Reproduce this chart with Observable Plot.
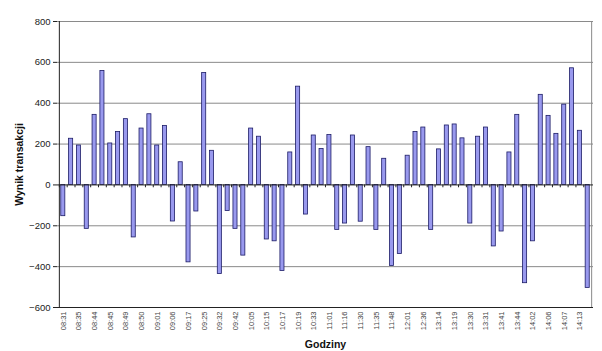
<!DOCTYPE html>
<html>
<head>
<meta charset="utf-8">
<script src="https://cdn.jsdelivr.net/npm/d3@7"></script>
<script src="https://cdn.jsdelivr.net/npm/@observablehq/plot@0.6"></script>
<style>
  html, body { margin: 0; padding: 0; background: #fff; }
  #chart { width: 602px; height: 351px; }
</style>
</head>
<body>
<div id="chart"></div>
<script>
// Tick labels (every second bar is labelled)
const tickLabels = ["08:31","08:35","08:44","08:45","08:49","08:50","09:01","09:06","09:17","09:25","09:32","09:42","10:05","10:15","10:17","10:19","10:33","11:01","11:16","11:30","11:35","11:48","12:01","12:36","13:14","13:19","13:30","13:31","13:41","13:44","14:02","14:06","14:07","14:13"];

// Transaction results, one per bar (68 bars)
const values = [
  -153, 226, 193, -215, 343, 558, 203, 259, 322, -257,
  276, 346, 193, 289, -179, 111, -379, -130, 548, 167,
  -436, -128, -215, -346, 276, 236, -267, -276, -421, 159,
  481, -145, 242, 176, 244, -220, -189, 242, -180, 185,
  -220, 128, -397, -338, 143, 259, 281, -220, 174, 291,
  296, 228, -189, 236, 281, -301, -228, 159, 343, -481,
  -276, 441, 338, 250, 393, 571, 265, -504
];

const yTicks = [-600, -400, -200, 0, 200, 400, 600, 800];

const data = values.map((v, i) => ({i, v}));
const idx = values.map((_, i) => i);
const labelOf = i => (i % 2 === 0 ? tickLabels[i / 2] : "");

const chart = Plot.plot({
  width: 602,
  height: 351,
  marginLeft: 57,
  marginRight: 9,
  marginTop: 21,
  marginBottom: 44,
  style: {fontFamily: "'Liberation Sans', Arial, sans-serif", background: "#fff", color: "#222"},
  x: {type: "band", domain: idx, padding: 0.48, axis: null},
  y: {domain: [-600, 800], axis: null},
  marks: [
    // gridlines
    Plot.ruleY(yTicks.filter(t => t !== 0 && t !== -600), {stroke: "#8a8a8a", strokeWidth: 1}),
    // right border
    Plot.ruleX([idx[idx.length - 1]], {y1: -600, y2: 800, dx: 3.94, stroke: "#8a8a8a", strokeWidth: 1}),
    // bars
    Plot.barY(data, {x: "i", y: "v", fill: "#9999ee", stroke: "#1c1c66", strokeWidth: 0.8}),
    // zero line with category ticks
    Plot.ruleY([0], {stroke: "#222", strokeWidth: 1}),
    Plot.ruleX(idx, {y1: 0, y2: -14, dx: -3.94, stroke: "#222", strokeWidth: 1}),
    // left axis line and bottom line
    Plot.ruleX([0], {y1: -600, y2: 800, dx: -3.94, stroke: "#222", strokeWidth: 1}),
    Plot.ruleY([-600], {stroke: "#222", strokeWidth: 1}),
    // y axis
    Plot.axisY({
      ticks: yTicks, tickSize: 4, tickPadding: 3, fontSize: 9.5,
      label: "Wynik transakcji", labelAnchor: "center", labelArrow: "none", labelOffset: 42
    }),
    // x axis
    Plot.axisX({
      ticks: idx.filter(i => i % 2 === 0), tickFormat: labelOf, tickRotate: -90,
      tickSize: 0, tickPadding: 4, fontSize: 7.5, fill: "#444",
      label: "Godziny", labelAnchor: "center", labelArrow: "none", labelOffset: 40
    })
  ]
});

document.getElementById("chart").appendChild(chart);
// bold axis titles
chart.querySelectorAll("g[aria-label='y-axis label'] text, g[aria-label='x-axis label'] text").forEach(t => {
  t.setAttribute("font-weight", "bold");
  t.setAttribute("font-size", "10.5");
  t.setAttribute("fill", "#111");
});
</script>
</body>
</html>
